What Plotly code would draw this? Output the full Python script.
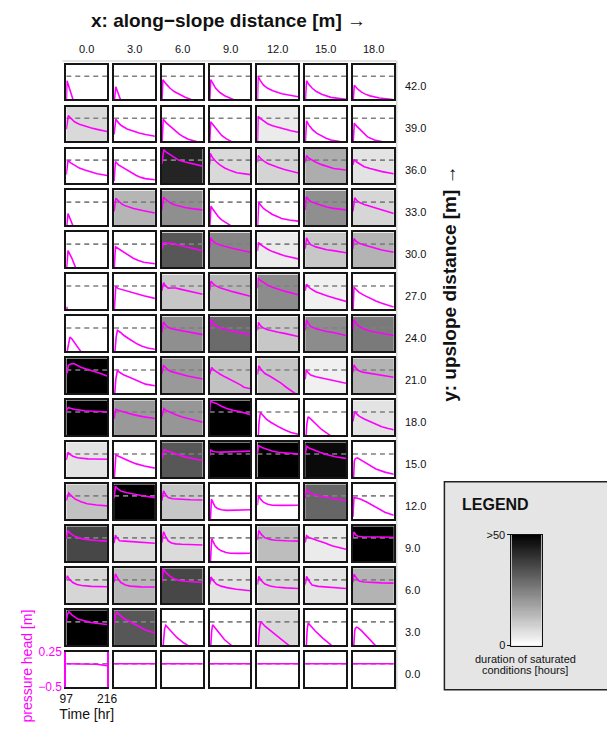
import numpy as np
import plotly.graph_objects as go

FIG_W, FIG_H = 607, 731
FONT = "Liberation Sans, Arial, Helvetica, sans-serif"
MAGENTA = "#ff00ff"

# ---- data -----------------------------------------------------------------
x_labels = ["0.0", "3.0", "6.0", "9.0", "12.0", "15.0", "18.0"]
y_labels = ["42.0", "39.0", "36.0", "33.0", "30.0", "27.0", "24.0", "21.0",
            "18.0", "15.0", "12.0", "9.0", "6.0", "3.0", "0.0"]
TIME_RANGE = [97, 216]          # hours
HEAD_RANGE = [-0.5, 0.25]       # pressure head [m]
time_ticks = [97, 216]
head_ticks = [-0.5, 0.25]
head_tick_text = ["\u22120.5", "0.25"]
SAT_MAX = 50                    # hours, top of the grey scale

# duration of saturated conditions [hours], rows from y=42 down to y=0
duration_hours = [
    [0, 0, 0, 0, 0, 0, 0],
    [7.5, 0, 0, 0, 4, 0, 0],
    [0, 0, 43, 7.5, 8.5, 16, 5.5],
    [0, 14.5, 22, 0, 0, 22, 8],
    [0, 0, 33, 24, 4, 11, 15],
    [0, 0, 11, 14.5, 22.5, 3, 0],
    [0, 0, 22, 29, 11, 22.5, 26],
    [50, 0, 20, 12, 11.5, 3, 15],
    [50, 20, 20.5, 50, 0, 0, 5.5],
    [5.5, 0, 33, 50, 50, 48, 0],
    [12, 50, 11, 0, 0, 30, 0],
    [36, 7, 7, 0, 13, 4, 50],
    [8, 14, 36, 5.5, 8, 5.5, 15],
    [50, 33, 0, 0, 7.5, 0, 0],
    [0, 0, 0, 0, 0, 0, 0],
]

# pressure head series (time [hr], head [m]) for each x position of a row
head_y42 = [
    [[97, -0.6], [99, -0.096], [116.5, -0.5], [118, -0.56]],
    [[97, -0.6], [102, -0.226], [115.5, -0.5], [117, -0.56]],
    [[97, -0.6], [100, -0.076], [110, -0.17], [121, -0.259], [133, -0.33], [147, -0.389], [165, -0.45], [182.5, -0.5], [190, -0.52]],
    [[97, -0.6], [100, -0.076], [107, -0.16], [114.6, -0.259], [127, -0.35], [141, -0.42], [165.7, -0.5], [170, -0.52]],
    [[97, -0.6], [99, 0.0], [105, -0.09], [115, -0.193], [127, -0.26], [142, -0.311], [168, -0.376], [190, -0.41], [216, -0.441]],
    [[97, -0.6], [101, -0.096], [108, -0.18], [117.7, -0.259], [130, -0.33], [145, -0.389], [172, -0.454], [195, -0.48], [216, -0.495]],
    [[97, -0.6], [101, -0.193], [110, -0.27], [121, -0.337], [133, -0.385], [147, -0.422], [174, -0.467], [200, -0.49], [213, -0.5]],
]
head_y39 = [
    [[97, -0.24], [103, 0.054], [110, 0.0], [121, -0.076], [135, -0.13], [151.6, -0.174], [170, -0.21], [187, -0.24], [216, -0.285]],
    [[97, -0.35], [102, -0.024], [110, -0.1], [118, -0.157], [135, -0.23], [153, -0.285], [170, -0.32], [188.6, -0.35], [216, -0.389]],
    [[97, -0.6], [101, -0.024], [110, -0.1], [121, -0.174], [133, -0.26], [147, -0.337], [160, -0.4], [174, -0.454], [198, -0.5], [205, -0.52]],
    [[97, -0.6], [100, -0.076], [107, -0.14], [114.6, -0.206], [122, -0.28], [132, -0.37], [145, -0.44], [158.7, -0.5], [165, -0.52]],
    [[97, -0.6], [99, 0.041], [106, -0.01], [115, -0.063], [127, -0.12], [141, -0.161], [158, -0.2], [176, -0.24], [195, -0.27], [216, -0.304]],
    [[97, -0.6], [101, -0.057], [108, -0.15], [117.7, -0.24], [130, -0.32], [145, -0.389], [158, -0.43], [172, -0.467], [190, -0.49], [205, -0.5], [210, -0.52]],
    [[97, -0.6], [101, -0.109], [108, -0.17], [117.5, -0.24], [128, -0.32], [139.5, -0.402], [160, -0.47], [182.5, -0.5], [190, -0.52]],
]
head_y36 = [
    [[97, -0.31], [102, -0.004], [110, -0.06], [121, -0.115], [135, -0.17], [151, -0.213], [170, -0.255], [187, -0.291], [216, -0.33]],
    [[97, -0.45], [101, -0.03], [110, -0.1], [127, -0.18], [145, -0.26], [162, -0.33], [175, -0.37], [188, -0.396], [216, -0.422]],
    [[97, -0.08], [103, 0.224], [110, 0.17], [121, 0.113], [134, 0.05], [147, -0.004], [165, -0.04], [182, -0.07], [216, -0.128]],
    [[97, -0.1], [99, 0.146], [105, 0.06], [114.6, -0.024], [127, -0.1], [141, -0.167], [158, -0.225], [176, -0.272], [216, -0.311]],
    [[97, -0.05], [99, 0.1], [106, 0.04], [115, -0.017], [127, -0.07], [141, -0.115], [158, -0.16], [176, -0.2], [216, -0.278]],
    [[97, -0.05], [101, 0.1], [108, 0.04], [117.7, -0.004], [130, -0.05], [145, -0.096], [162, -0.14], [180, -0.18], [216, -0.213]],
    [[97, -0.1], [101, 0.015], [108, -0.04], [117.5, -0.083], [130, -0.14], [147, -0.18], [165, -0.215], [182, -0.246], [216, -0.291]],
]
head_y33 = [
    [[97, -0.6], [102, -0.246], [116, -0.5], [117, -0.56]],
    [[97, -0.2], [102, 0.08], [108, 0.04], [113, 0.0], [120, -0.04], [126.7, -0.07], [140, -0.105], [153.7, -0.135], [180, -0.18], [216, -0.233]],
    [[97, -0.17], [102, 0.106], [108, 0.06], [115.5, 0.015], [124, -0.025], [133.5, -0.057], [147, -0.09], [164, -0.115], [190, -0.145], [216, -0.167]],
    [[97, -0.6], [101, -0.089], [107, -0.16], [113.7, -0.233], [122, -0.31], [131, -0.376], [145, -0.45], [158, -0.5], [162, -0.52]],
    [[97, -0.6], [101, -0.004], [107, -0.07], [114.6, -0.135], [127, -0.2], [141, -0.265], [155, -0.31], [167.5, -0.35], [190, -0.385], [216, -0.409]],
    [[97, -0.17], [100, 0.113], [106, 0.06], [113, 0.015], [128, -0.03], [144, -0.07], [160, -0.105], [179, -0.135], [216, -0.167]],
    [[97, -0.2], [102, 0.093], [108, 0.04], [115, -0.004], [130, -0.05], [146, -0.089], [164, -0.13], [181, -0.167], [200, -0.205], [216, -0.246]],
]
head_y30 = [
    [[97, -0.6], [102, -0.141], [113, -0.3], [125, -0.5], [127, -0.56]],
    [[97, -0.6], [101, -0.057], [110, -0.1], [126, -0.174], [140, -0.24], [153, -0.304], [168, -0.35], [183.5, -0.389], [216, -0.422]],
    [[97, -0.11], [102, 0.035], [110, 0.02], [120, 0.02], [130, 0.01], [145, -0.02], [165, -0.057], [191, -0.11], [216, -0.141]],
    [[97, -0.1], [100, 0.132], [106, 0.07], [114, 0.02], [127, -0.02], [140, -0.05], [157, -0.08], [175, -0.11], [216, -0.174]],
    [[97, -0.15], [100, 0.035], [106, -0.01], [114.6, -0.057], [127, -0.11], [141, -0.161], [158, -0.21], [176, -0.252], [216, -0.317]],
    [[97, -0.1], [101, 0.132], [106, 0.06], [113, -0.011], [128, -0.06], [144, -0.096], [160, -0.12], [179, -0.141], [216, -0.187]],
    [[97, -0.1], [100, 0.12], [106, 0.06], [115, 0.02], [130, -0.02], [146, -0.057], [164, -0.095], [181, -0.128], [216, -0.174]],
]
head_y27 = [
    [[97, -0.6], [98, -0.448], [100, -0.5], [101, -0.56]],
    [[97, -0.6], [102, -0.004], [108, -0.05], [117, -0.07], [125, -0.08], [130.5, -0.089], [140, -0.11], [153, -0.135], [168, -0.17], [183.5, -0.206], [216, -0.265]],
    [[97, -0.1], [102, 0.074], [108, 0.0], [115.5, -0.043], [125, -0.04], [137, -0.043], [150, -0.065], [164, -0.089], [190, -0.13], [216, -0.174]],
    [[97, -0.1], [101, 0.106], [107, 0.05], [114, 0.009], [127, -0.035], [140, -0.07], [157, -0.105], [175, -0.141], [216, -0.22]],
    [[97, -0.05], [99, 0.172], [106, 0.12], [114.6, 0.074], [127, 0.02], [141, -0.024], [158, -0.07], [176, -0.109], [216, -0.187]],
    [[97, -0.1], [101, 0.041], [106, -0.01], [113, -0.057], [128, -0.12], [144, -0.167], [160, -0.21], [179, -0.252], [216, -0.33]],
    [[97, -0.6], [100, -0.024], [107, -0.08], [115, -0.135], [130, -0.2], [146, -0.265], [164, -0.32], [181, -0.37], [200, -0.415], [216, -0.448]],
]
head_y24 = [
    [[97, -0.6], [99.5, -0.5], [104, -0.25], [107.5, -0.193], [113, -0.23], [119, -0.291], [126, -0.36], [132, -0.42], [139, -0.5], [141, -0.56]],
    [[97, -0.6], [99.6, -0.5], [103, -0.2], [106.7, -0.05], [115, -0.09], [126, -0.161], [140, -0.23], [153, -0.291], [165, -0.345], [179, -0.389], [195, -0.43], [216, -0.454]],
    [[97, -0.1], [102, 0.132], [108, 0.06], [115.5, 0.015], [125, -0.015], [137, -0.03], [150, -0.055], [164, -0.076], [190, -0.11], [216, -0.141]],
    [[97, -0.05], [101, 0.185], [107, 0.11], [114, 0.054], [127, 0.005], [140, -0.03], [157, -0.06], [175, -0.083], [216, -0.141]],
    [[97, -0.05], [100, 0.12], [106, 0.05], [114.6, 0.0], [127, -0.035], [141, -0.063], [158, -0.09], [176, -0.115], [216, -0.18]],
    [[97, -0.05], [101, 0.178], [106, 0.1], [113, 0.035], [128, -0.015], [144, -0.05], [160, -0.075], [179, -0.096], [216, -0.161]],
    [[97, -0.05], [100, 0.178], [106, 0.1], [115, 0.035], [130, -0.02], [146, -0.063], [164, -0.09], [181, -0.115], [216, -0.161]],
]
head_y21 = [
    [[97, -0.08], [100, -0.05], [103, 0.1], [106, 0.12], [110, 0.13], [119, 0.137], [130, 0.095], [141, 0.054], [158, 0.015], [176, -0.024], [195, -0.07], [216, -0.128]],
    [[97, -0.6], [99, -0.5], [102, -0.2], [106.7, -0.011], [115, -0.06], [126, -0.109], [140, -0.15], [153, -0.193], [170, -0.25], [188.6, -0.304], [216, -0.337]],
    [[97, -0.08], [102, 0.1], [108, 0.05], [115.5, 0.0], [125, -0.035], [137, -0.063], [155, -0.1], [172, -0.128], [216, -0.193]],
    [[97, -0.1], [103, 0.054], [109, 0.0], [116.5, -0.043], [128, -0.09], [140, -0.141], [158, -0.205], [175, -0.272], [187, -0.32], [197, -0.37], [216, -0.402]],
    [[97, -0.1], [101, 0.087], [109, 0.0], [119, -0.076], [135, -0.14], [150, -0.206], [166, -0.28], [181, -0.37], [195, -0.44], [207, -0.5], [210, -0.52]],
    [[97, -0.2], [100, 0.0], [106, -0.06], [113, -0.109], [128, -0.145], [144, -0.174], [160, -0.2], [179, -0.226], [216, -0.285]],
    [[97, -0.05], [100, 0.106], [106, 0.04], [113, -0.011], [125, -0.045], [139, -0.063], [155, -0.085], [174, -0.109], [216, -0.154]],
]
head_y18 = [
    [[97, 0.0], [99, 0.06], [103, 0.093], [112, 0.07], [125, 0.05], [151.6, 0.028], [180, 0.01], [216, 0.0]],
    [[97, -0.15], [102, 0.054], [108, 0.035], [117, 0.015], [135, -0.02], [153, -0.057], [180, -0.1], [216, -0.141]],
    [[97, -0.1], [103, 0.074], [110, 0.03], [121, -0.011], [138, -0.06], [156, -0.109], [185, -0.17], [216, -0.22]],
    [[97, 0.0], [99, 0.237], [106, 0.21], [116.5, 0.185], [130, 0.13], [147, 0.074], [165, 0.035], [184, 0.009], [216, -0.057]],
    [[97, -0.6], [99.6, -0.5], [102, -0.2], [105.8, -0.011], [113, -0.07], [123, -0.154], [137, -0.225], [150, -0.285], [163, -0.335], [176, -0.382], [195, -0.44], [216, -0.48]],
    [[97, -0.6], [99.6, -0.5], [102, -0.25], [105.8, -0.102], [113, -0.15], [122, -0.22], [133, -0.3], [144, -0.37], [157, -0.44], [170, -0.5], [173, -0.52]],
    [[97, -0.2], [102, 0.009], [108, -0.04], [115, -0.089], [130, -0.15], [146, -0.206], [164, -0.265], [181, -0.317], [200, -0.355], [216, -0.383]],
]
head_y15 = [
    [[97, -0.13], [99, -0.05], [102, 0.035], [108, -0.01], [116, -0.05], [129, -0.08], [142, -0.096], [160, -0.105], [176, -0.109], [216, -0.115]],
    [[97, -0.6], [98, -0.5], [100, -0.2], [102.3, -0.017], [110, -0.05], [126, -0.109], [144, -0.16], [162, -0.213], [185, -0.26], [216, -0.304]],
    [[97, -0.1], [104, 0.087], [115, 0.06], [129, 0.022], [146, -0.02], [164, -0.063], [190, -0.105], [216, -0.141]],
    [[97, -0.05], [99, 0.087], [106, 0.06], [113, 0.048], [130, 0.04], [147, 0.04], [175, 0.05], [216, 0.06]],
    [[97, 0.0], [101, 0.178], [110, 0.14], [123, 0.1], [140, 0.065], [158, 0.035], [185, 0.012], [216, -0.004]],
    [[97, 0.0], [102, 0.165], [110, 0.12], [122, 0.08], [140, 0.035], [162, -0.017], [185, -0.06], [216, -0.096]],
    [[97, -0.6], [99, -0.5], [101, -0.15], [104, -0.1], [110, -0.083], [118, -0.12], [129, -0.174], [146, -0.25], [164, -0.324], [190, -0.39], [216, -0.435]],
]
head_y12 = [
    [[97, -0.1], [100, 0.0], [104, 0.061], [112, 0.0], [123, -0.07], [140, -0.125], [158, -0.167], [185, -0.195], [216, -0.213]],
    [[97, -0.05], [101, 0.204], [108, 0.15], [117, 0.106], [135, 0.07], [153, 0.041], [180, 0.005], [216, -0.037]],
    [[97, -0.1], [102, 0.106], [108, 0.03], [115.5, -0.037], [128, -0.06], [146, -0.07], [165, -0.078], [181, -0.083], [216, -0.089]],
    [[97, -0.6], [99.5, -0.5], [102.3, -0.07], [107, -0.16], [113, -0.233], [120, -0.27], [131, -0.298], [148, -0.31], [166, -0.311], [190, -0.305], [216, -0.298]],
    [[97, -0.2], [100, 0.015], [106, -0.07], [114.6, -0.135], [127, -0.18], [141, -0.2], [170, -0.203], [216, -0.2]],
    [[97, -0.05], [101, 0.139], [108, 0.09], [117, 0.041], [138, 0.0], [162, -0.037], [190, -0.07], [216, -0.102]],
    [[97, -0.45], [100, -0.037], [108, -0.045], [120, -0.07], [137, -0.13], [155, -0.2], [172, -0.27], [190, -0.35], [216, -0.415]],
]
head_y9 = [
    [[97, -0.02], [99, 0.08], [102, 0.159], [110, 0.09], [123, 0.028], [140, -0.01], [158, -0.037], [185, -0.055], [216, -0.07]],
    [[97, -0.115], [99, 0.0], [101, 0.061], [106, 0.0], [113, -0.063], [128, -0.07], [144, -0.076], [180, -0.096], [216, -0.115]],
    [[97, -0.1], [102, 0.132], [108, 0.03], [115.5, -0.063], [125, -0.11], [137, -0.128], [155, -0.137], [172, -0.141], [216, -0.154]],
    [[97, -0.6], [99.5, -0.5], [103, -0.017], [108, -0.1], [113, -0.167], [121, -0.23], [131, -0.278], [145, -0.315], [157, -0.33], [185, -0.333], [216, -0.33]],
    [[97, -0.05], [101, 0.159], [109, 0.07], [119, 0.0], [134, -0.035], [150, -0.052], [180, -0.063], [216, -0.07]],
    [[97, -0.1], [101, 0.048], [108, 0.01], [117, -0.017], [135, -0.06], [153, -0.102], [175, -0.17], [216, -0.246]],
    [[97, 0.0], [100, 0.126], [106, 0.06], [111, 0.035], [125, 0.025], [139, 0.022], [175, 0.018], [216, 0.015]],
]
head_y6 = [
    [[97, 0.01], [100, 0.087], [105, 0.02], [116, -0.057], [128, -0.1], [142, -0.122], [170, -0.14], [216, -0.148]],
    [[97, -0.05], [101, 0.126], [108, 0.03], [117, -0.057], [130, -0.11], [144, -0.135], [175, -0.15], [216, -0.154]],
    [[97, -0.05], [101, 0.237], [110, 0.15], [121, 0.074], [134, 0.02], [147, -0.011], [165, -0.03], [182, -0.043], [216, -0.057]],
    [[97, -0.1], [101, 0.061], [108, -0.02], [116.5, -0.089], [130, -0.135], [147, -0.167], [175, -0.2], [216, -0.233]],
    [[97, -0.1], [101, 0.074], [109, -0.02], [119, -0.089], [134, -0.13], [150, -0.154], [180, -0.172], [216, -0.187]],
    [[97, -0.1], [101, 0.074], [109, -0.03], [117, -0.109], [135, -0.14], [153, -0.154], [180, -0.172], [216, -0.187]],
    [[97, -0.05], [100, 0.12], [107, 0.04], [115, -0.024], [130, -0.047], [146, -0.057], [180, -0.065], [216, -0.07]],
]
head_y3 = [
    [[97, 0.0], [100, 0.15], [104, 0.217], [115, 0.14], [132, 0.054], [150, 0.015], [168, -0.011], [190, -0.035], [216, -0.057]],
    [[97, -0.04], [101, 0.15], [105, 0.204], [115, 0.14], [126, 0.067], [145, -0.005], [162, -0.076], [175, -0.13], [188.6, -0.174], [216, -0.24]],
    [[97, -0.6], [101, -0.5], [105, -0.15], [108.6, -0.076], [120, -0.17], [140, -0.33], [160, -0.45], [173.7, -0.5], [176, -0.52]],
    [[97, -0.6], [100.5, -0.5], [103, -0.2], [105.8, -0.063], [115, -0.15], [124.6, -0.24], [140, -0.38], [153, -0.46], [160.5, -0.5], [163, -0.52]],
    [[97, -0.6], [99.6, -0.5], [103, -0.15], [106.7, 0.009], [120, -0.1], [142, -0.236], [165, -0.37], [188, -0.5], [191, -0.52]],
    [[97, -0.6], [100.5, -0.5], [103, -0.15], [105.8, -0.028], [115, -0.1], [127, -0.203], [150, -0.36], [173, -0.5], [176, -0.52]],
    [[97, -0.6], [99.6, -0.5], [102, -0.2], [104, -0.14], [107.6, -0.115], [112, -0.13], [122, -0.19], [140, -0.33], [161, -0.5], [164, -0.52]],
]
head_y0 = [
    [[97, 0.0], [150, 0.0], [185, -0.01], [216, -0.04]],
    [[97, 0.0], [216, 0.0]],
    [[97, 0.0], [216, 0.0]],
    [[97, 0.0], [216, 0.0]],
    [[97, 0.0], [216, 0.0]],
    [[97, 0.0], [216, 0.0]],
    [[97, 0.0], [216, 0.0]],
]

head_rows = [head_y42, head_y39, head_y36, head_y33, head_y30, head_y27, head_y24,
             head_y21, head_y18, head_y15, head_y12, head_y9, head_y6, head_y3, head_y0]

# ---- panel geometry (pixels) ---------------------------------------------
N_ROWS, N_COLS = len(y_labels), len(x_labels)
COL_LEFT0, COL_PITCH, COL_W = 61.0, 49.15, 42.0
ROW_TOP0, ROW_PITCH, ROW_H = 58.7, 42.79, 35.6


def fx(px):
    return px / FIG_W


def fy(py):
    return 1 - py / FIG_H


def ref(prefix, k):
    return prefix if k == 1 else f"{prefix}{k}"


fig = go.Figure()
layout = {}
annotations = []

for r in range(N_ROWS):
    for c in range(N_COLS):
        k = r * N_COLS + c + 1
        xr, yr = ref("x", k), ref("y", k)
        pts = np.array(head_rows[r][c], dtype=float)

        fig.add_trace(go.Heatmap(
            z=[[duration_hours[r][c]]], x=TIME_RANGE, y=HEAD_RANGE,
            coloraxis="coloraxis", xaxis=xr, yaxis=yr, hoverinfo="skip"))
        fig.add_trace(go.Scatter(
            x=TIME_RANGE, y=[0, 0], mode="lines", xaxis=xr, yaxis=yr,
            line=dict(color="#808080", width=1.6, dash="5px,4px"),
            hoverinfo="skip", showlegend=False))
        fig.add_trace(go.Scatter(
            x=pts[:, 0], y=pts[:, 1], mode="lines", xaxis=xr, yaxis=yr,
            line=dict(color=MAGENTA, width=1.6), showlegend=False))

        x0 = COL_LEFT0 + c * COL_PITCH
        y0 = ROW_TOP0 + r * ROW_PITCH
        corner = (r == N_ROWS - 1 and c == 0)
        xa = dict(domain=[fx(x0), fx(x0 + COL_W)], range=TIME_RANGE, anchor=yr,
                  showgrid=False, zeroline=False, showline=True, mirror=True,
                  linecolor="#151515", linewidth=2, ticks="",
                  showticklabels=corner, fixedrange=True)
        ya = dict(domain=[fy(y0 + ROW_H), fy(y0)], range=HEAD_RANGE, anchor=xr,
                  showgrid=False, zeroline=False, showline=True, mirror=True,
                  linecolor="#151515", linewidth=2, ticks="",
                  showticklabels=corner, fixedrange=True)
        if corner:
            xa.update(tickvals=time_ticks, ticktext=[str(t) for t in time_ticks],
                      tickfont=dict(size=12, color="#111", family=FONT),
                      title=dict(text="Time [hr]", standoff=2,
                                 font=dict(size=14, color="#111", family=FONT)))
            ya.update(tickvals=head_ticks, ticktext=head_tick_text, linecolor=MAGENTA,
                      tickfont=dict(size=12, color=MAGENTA, family=FONT))
        layout[ref("xaxis", k)] = xa
        layout[ref("yaxis", k)] = ya

        if r == 0:
            annotations.append(dict(
                text=x_labels[c], xref=f"{xr} domain", yref=f"{yr} domain",
                x=0.5, y=1, yshift=15.5, xanchor="center", yanchor="middle",
                showarrow=False, font=dict(size=11, color="#111", family=FONT)))
        if c == N_COLS - 1:
            annotations.append(dict(
                text=y_labels[r], xref=f"{xr} domain", yref=f"{yr} domain",
                x=1, y=0.5, xshift=9, yshift=-4, xanchor="left", yanchor="middle",
                showarrow=False, font=dict(size=11, color="#111", family=FONT)))

# ---- grey-scale legend bar -----------------------------------------------
kb = N_ROWS * N_COLS + 1
edges = np.linspace(0, SAT_MAX, 101)
mids = (edges[:-1] + edges[1:]) / 2
fig.add_trace(go.Heatmap(
    z=[[m] for m in mids], x=[0, 1], y=edges, coloraxis="coloraxis",
    xaxis=f"x{kb}", yaxis=f"y{kb}", hoverinfo="skip"))
layout[f"xaxis{kb}"] = dict(domain=[fx(519), fx(550)], range=[0, 1], anchor=f"y{kb}",
                            showgrid=False, zeroline=False, showticklabels=False,
                            ticks="", showline=True, mirror=True,
                            linecolor="#111", linewidth=1, fixedrange=True)
layout[f"yaxis{kb}"] = dict(domain=[fy(651), fy(538)], range=[0, SAT_MAX], anchor=f"x{kb}",
                            showgrid=False, zeroline=False, showline=True, mirror=True,
                            linecolor="#111", linewidth=1, ticks="outside", ticklen=3,
                            tickcolor="#111", tickvals=[0, SAT_MAX],
                            ticktext=["0", f">{SAT_MAX}"],
                            tickfont=dict(size=11, color="#111", family=FONT),
                            fixedrange=True)

annotations += [
    dict(text="<b>x: along\u2212slope distance [m]</b> \u2192", xref="paper", yref="paper",
         x=fx(228), y=fy(14), xanchor="center", yanchor="middle", showarrow=False,
         font=dict(size=19, color="#111", family=FONT)),
    dict(text="<b>y: upslope distance [m]</b> \u2192", xref="paper", yref="paper",
         x=fx(455), y=fy(282), xanchor="center", yanchor="middle", textangle=-90,
         showarrow=False, font=dict(size=19, color="#111", family=FONT)),
    dict(text="pressure head [m]", xref="paper", yref="paper",
         x=fx(21), y=fy(672), xanchor="center", yanchor="middle", textangle=-90,
         showarrow=False, font=dict(size=14, color=MAGENTA, family=FONT)),
    dict(text="<b>LEGEND</b>", xref="paper", yref="paper", x=fx(466), y=fy(507),
         xanchor="left", yanchor="middle", showarrow=False,
         font=dict(size=16, color="#111", family=FONT)),
    dict(text="duration of saturated", xref="paper", yref="paper",
         x=fx(533), y=fy(664.5), xanchor="center", yanchor="middle", showarrow=False,
         font=dict(size=11, color="#111", family=FONT)),
    dict(text="conditions [hours]", xref="paper", yref="paper",
         x=fx(533), y=fy(676), xanchor="center", yanchor="middle", showarrow=False,
         font=dict(size=11, color="#111", family=FONT)),
]

shapes = [
    # legend panel
    dict(type="rect", xref="paper", yref="paper", x0=fx(450), x1=fx(625),
         y0=fy(696), y1=fy(484), fillcolor="#e5e5e5",
         line=dict(color="#222", width=1.5), layer="below"),
    # light frame around the grid
    dict(type="line", xref="paper", yref="paper", x0=fx(57), x1=fx(401),
         y0=fy(55), y1=fy(55), line=dict(color="#d8d8d8", width=1.5)),
    dict(type="line", xref="paper", yref="paper", x0=fx(401), x1=fx(401),
         y0=fy(55), y1=fy(697), line=dict(color="#d8d8d8", width=1.5)),
]

fig.update_layout(
    width=FIG_W, height=FIG_H, margin=dict(l=0, r=0, t=0, b=0),
    paper_bgcolor="white", plot_bgcolor="white", showlegend=False,
    font=dict(family=FONT, color="#111"),
    coloraxis=dict(colorscale=[[0, "#ffffff"], [1, "#000000"]],
                   cmin=0, cmax=SAT_MAX, showscale=False),
    annotations=annotations, shapes=shapes, **layout)

fig.write_html("out.html")
